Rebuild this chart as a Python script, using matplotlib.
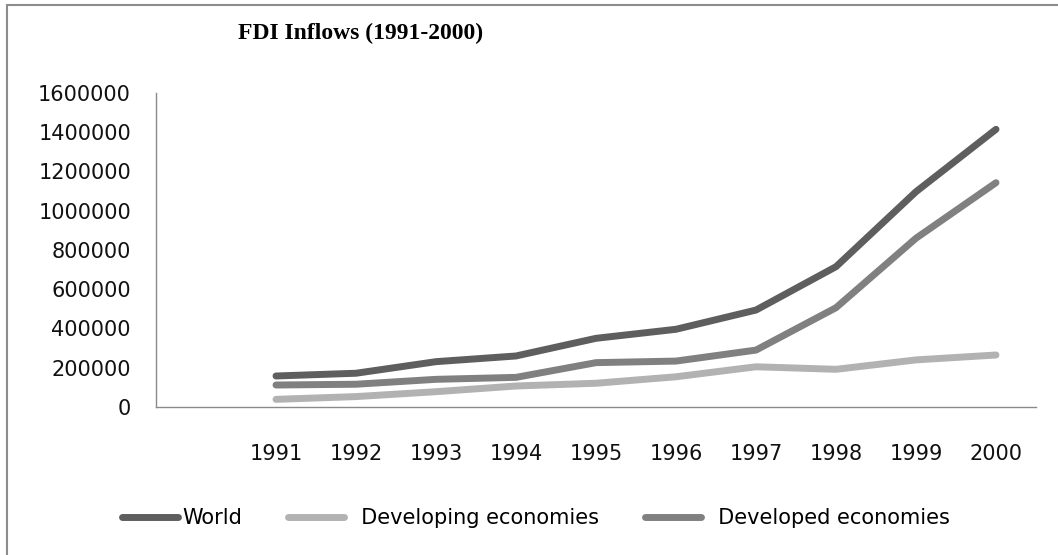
import matplotlib
matplotlib.use('Agg')
import matplotlib.pyplot as plt
from matplotlib.patches import Rectangle
from matplotlib.ticker import StrMethodFormatter

plt.rcParams['font.family'] = ['DejaVu Sans']

years = ['1991', '1992', '1993', '1994', '1995', '1996', '1997', '1998', '1999', '2000']
world = [158000, 172000, 231000, 260000, 350000, 396000, 494000, 715000, 1097000, 1415000]
developing = [39000, 53000, 78000, 107000, 121000, 154000, 205000, 192000, 240000, 265000]
developed = [112000, 116000, 141000, 151000, 226000, 234000, 290000, 506000, 860000, 1143000]

series = [
    ('World', world, '#5e5e5e'),
    ('  Developing economies', developing, '#b2b2b2'),
    ('  Developed economies', developed, '#808080'),
]

fig = plt.figure(figsize=(10.58, 5.55), dpi=100)
ax = fig.add_axes([156 / 1058, 1 - 407 / 555, 880 / 1058, 314 / 555])

# first category slot is left empty, years occupy slots 1..10
xs = list(range(1, len(years) + 1))
for label, vals, color in series:
    ax.plot(xs, vals, color=color, linewidth=5, solid_capstyle='round',
            solid_joinstyle='round', label=label)

ax.set_xlim(-0.5, 10.5)
ax.set_ylim(0, 1600000)
ax.set_xticks(xs)
ax.set_xticklabels(years)
ax.set_yticks(range(0, 1600001, 200000))
ax.yaxis.set_major_formatter(StrMethodFormatter('{x:.0f}'))
ax.tick_params(axis='both', length=0, labelsize=15, colors='#111111')
ax.tick_params(axis='x', pad=27)
ax.tick_params(axis='y', pad=18)

for side in ['top', 'right']:
    ax.spines[side].set_visible(False)
for side in ['left', 'bottom']:
    ax.spines[side].set_color('#8a8a8a')
    ax.spines[side].set_linewidth(1)

fig.text(361 / 1058, 1 - 33 / 555, 'FDI Inflows (1991-2000)', ha='center', va='center',
         fontsize=17, fontweight='bold', family='Liberation Serif')

handles, labels = ax.get_legend_handles_labels()
fig.legend(handles, labels, loc='center', bbox_to_anchor=(536 / 1058, 1 - 518 / 555),
           ncol=3, frameon=False, fontsize=15, handlelength=2.7, handletextpad=0.2,
           columnspacing=2.2)

# outer chart border
fig.add_artist(Rectangle((7 / 1058, -0.1), 1.2, 1.1 - 5 / 555, transform=fig.transFigure,
                         fill=False, edgecolor='#8c8c8c', linewidth=1.5))

fig.savefig('out.png', dpi=100)
